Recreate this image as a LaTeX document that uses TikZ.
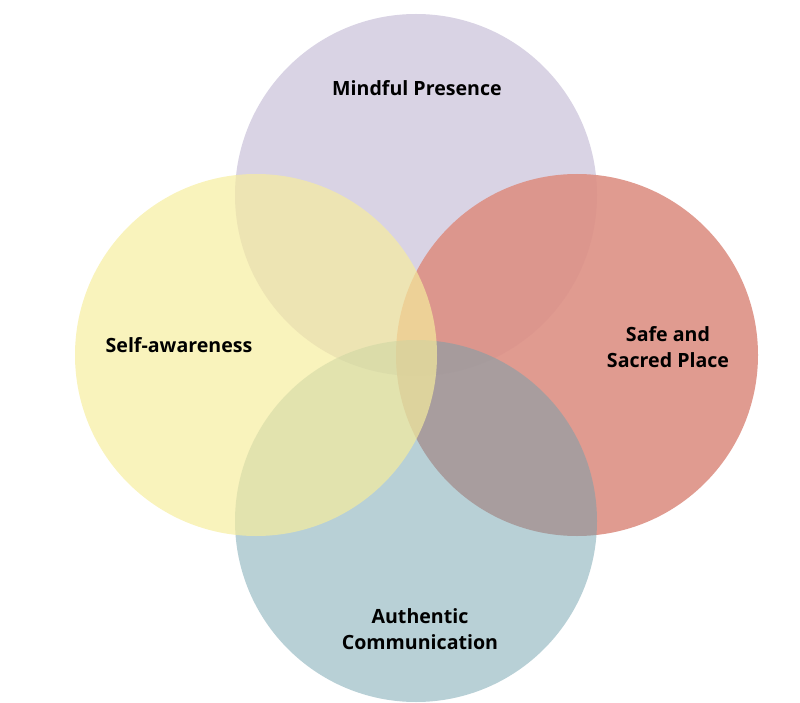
\documentclass[tikz,border=0pt]{standalone}
\usepackage{fontspec}
\setmainfont{Open Sans}
\begin{document}
\begin{tikzpicture}[x=1pt,y=-1pt,
  venn/.style={draw=none},
  lbl/.style={font=\bfseries\fontsize{19.6}{26}\selectfont, text=black, align=center, inner sep=0pt}]
\useasboundingbox (0,0) rectangle (800,703);
\definecolor{cpurple}{RGB}{179,167,201}
\definecolor{cred}{RGB}{221,144,132}
\definecolor{cblue}{RGB}{113,161,173}
\definecolor{cyellow}{RGB}{246,237,156}
\fill[venn, cpurple, fill opacity=0.5] (416,195) circle (181);
\fill[venn, cred, fill opacity=0.9] (577,355) circle (181);
\fill[venn, cblue, fill opacity=0.5] (416,521) circle (181);
\fill[venn, cyellow, fill opacity=0.68] (256,355) circle (181);
\node[lbl, anchor=base] (mp) at (417,95.5) {Mindful Presence};
\node[lbl, anchor=base] (sa) at (179,352) {Self-awareness};
\node[lbl, anchor=center] (ss) at (668,347) {Safe and\\Sacred Place};
\node[lbl, anchor=center] (ac) at (420,629) {Authentic\\Communication};
\end{tikzpicture}
\end{document}
